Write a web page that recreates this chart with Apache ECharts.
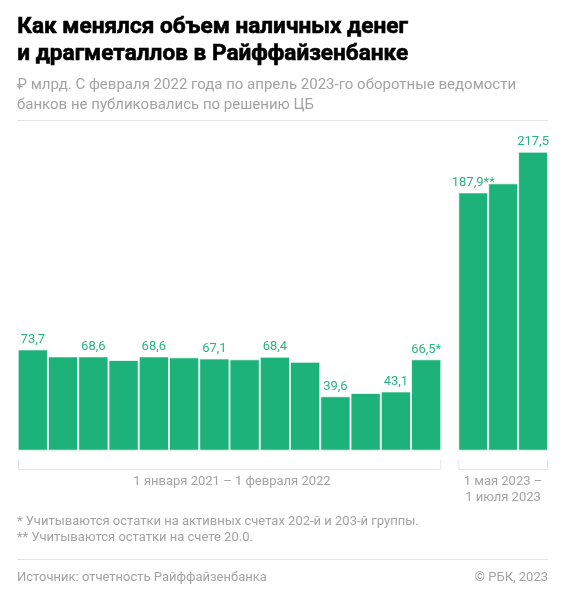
<!DOCTYPE html>
<html><head><meta charset="utf-8">
<script src="https://cdn.jsdelivr.net/npm/echarts@6/dist/echarts.min.js"></script>
<style>html,body{margin:0;padding:0;background:#fff}#c{width:567px;height:600px}</style>
</head><body><div id="c"></div>
<script>
const categories1 = ['янв 2021','фев 2021','мар 2021','апр 2021','май 2021','июн 2021','июл 2021','авг 2021','сен 2021','окт 2021','ноя 2021','дек 2021','янв 2022','фев 2022'];
const values1 = [73.7, 68.6, 68.6, 66.0, 68.6, 67.9, 67.1, 66.5, 68.4, 64.7, 39.6, 42.0, 43.1, 66.5];
const labels1 = ['73,7','', '68,6','', '68,6','', '67,1','', '68,4','', '39,6','', '43,1','66,5*'];
const categories2 = ['май 2023','июн 2023','июл 2023'];
const values2 = [187.9, 194.5, 217.5];
const labels2 = ['187,9**','','217,5'];
const groupLabel1 = '1 января 2021 – 1 февраля 2022';
const groupLabel2 = '1 мая 2023 –\n1 июля 2023';

const FONT = 'Roboto, "Noto Sans", sans-serif';
const GREEN = '#1cb27a';
const LABEL_GREEN = '#2ab47e';
const GRAY = '#a3a3a3';
const LINE = '#e4e4e4';

const chart = echarts.init(document.getElementById('c'), null, {renderer:'canvas'});

function mkData(vals, labs){
  return vals.map((v,i)=>({value:v, label:{show: !!labs[i], formatter: labs[i]}}));
}
const baseSeries = {
  type:'bar', barCategoryGap:'0%', barGap:'0%',
  itemStyle:{color:GREEN, borderColor:'rgba(255,255,255,0.75)', borderWidth:1},
  label:{position:'top', distance:3, color:LABEL_GREEN, fontFamily:FONT, fontSize:13},
  emphasis:{disabled:true}, animation:false
};
const yAx = {type:'value', min:0, max:250, show:false};
const xAx = {type:'category', show:false, axisTick:{show:false}};

chart.setOption({
  animation:false,
  grid:[
    {left:17.7, width:423.6, top:107, bottom:149.3},
    {left:458.3, width:89.7, top:107, bottom:149.3}
  ],
  xAxis:[
    Object.assign({}, xAx, {gridIndex:0, data:categories1}),
    Object.assign({}, xAx, {gridIndex:1, data:categories2})
  ],
  yAxis:[
    Object.assign({}, yAx, {gridIndex:0}),
    Object.assign({}, yAx, {gridIndex:1})
  ],
  series:[
    Object.assign({}, baseSeries, {xAxisIndex:0, yAxisIndex:0, data:mkData(values1, labels1)}),
    Object.assign({}, baseSeries, {xAxisIndex:1, yAxisIndex:1, data:mkData(values2, labels2)})
  ],
  graphic:[
    {type:'text', left:17, top:14, style:{text:'Как менялся объем наличных денег\nи драгметаллов в Райффайзенбанке', font:'bold 22.6px '+FONT, fill:'#000', stroke:'#000', lineWidth:0.6, lineHeight:27}},
    {type:'text', left:17, top:75, style:{text:'₽ млрд. С февраля 2022 года по апрель 2023-го оборотные ведомости\nбанков не публиковались по решению ЦБ', font:'15px '+FONT, fill:GRAY, lineHeight:20}},
    {type:'line', shape:{x1:17, y1:120.5, x2:548, y2:120.5}, style:{stroke:LINE, lineWidth:1}},
    {type:'polyline', shape:{points:[[18.5,460],[18.5,469.5],[440.8,469.5],[440.8,460]]}, style:{stroke:LINE, lineWidth:1, fill:null}},
    {type:'polyline', shape:{points:[[458.8,460],[458.8,469.5],[547.5,469.5],[547.5,460]]}, style:{stroke:LINE, lineWidth:1, fill:null}},
    {type:'text', x:232, y:481.7, style:{text:groupLabel1, font:'13px '+FONT, fill:GRAY, align:'center', verticalAlign:'middle'}},
    {type:'text', x:503, y:489.7, style:{text:groupLabel2, font:'13px '+FONT, fill:GRAY, align:'center', verticalAlign:'middle', lineHeight:16}},
    {type:'text', x:17, y:522, style:{text:'* Учитываются остатки на активных счетах 202-й и 203-й группы.', font:'13px '+FONT, fill:GRAY, verticalAlign:'middle'}},
    {type:'text', x:17, y:538, style:{text:'** Учитываются остатки на счете 20.0.', font:'13px '+FONT, fill:GRAY, verticalAlign:'middle'}},
    {type:'line', shape:{x1:17, y1:559.5, x2:548, y2:559.5}, style:{stroke:LINE, lineWidth:1}},
    {type:'text', x:17, y:577.5, style:{text:'Источник: отчетность Райффайзенбанка', font:'13px '+FONT, fill:GRAY, verticalAlign:'middle'}},
    {type:'text', x:548, y:577.5, style:{text:'© РБК, 2023', font:'13px '+FONT, fill:GRAY, align:'right', verticalAlign:'middle'}}
  ]
});
</script></body></html>
